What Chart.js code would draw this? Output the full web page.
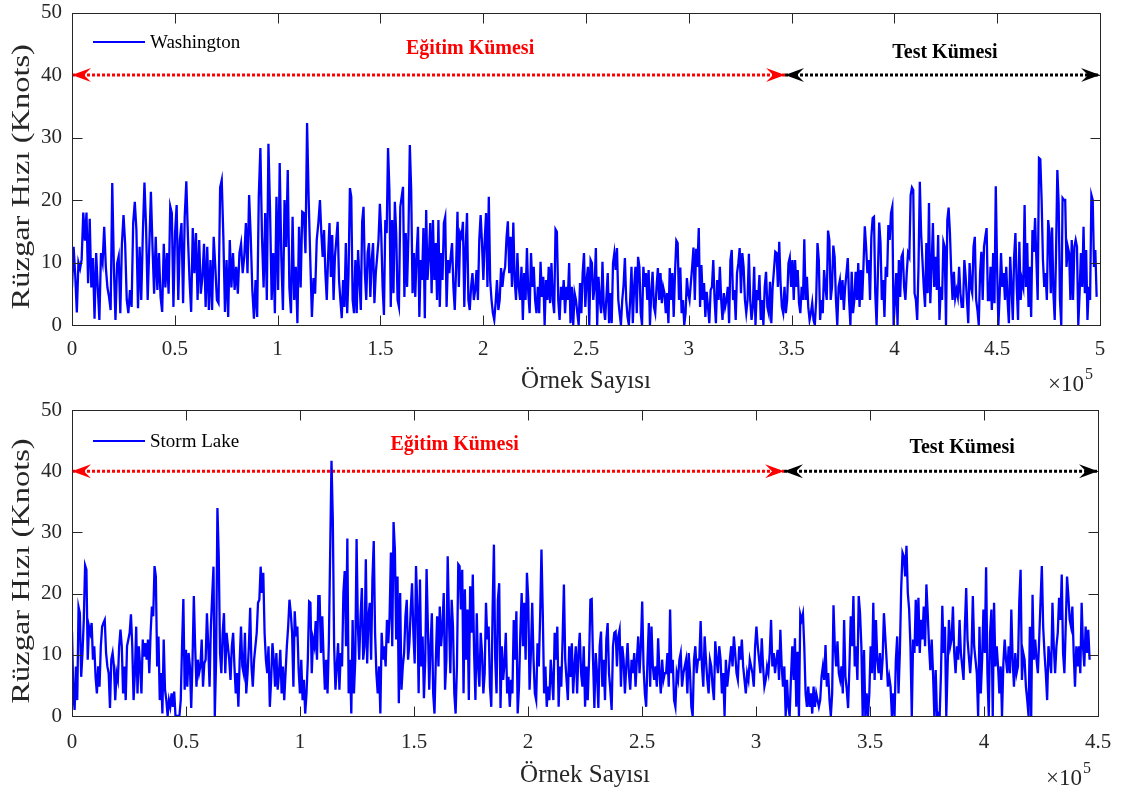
<!DOCTYPE html>
<html>
<head>
<meta charset="utf-8">
<script src="https://cdn.jsdelivr.net/npm/chart.js@4.4.1/dist/chart.umd.min.js"></script>
<style>
    html, body { margin: 0; padding: 0; background: #fff; }
    #wrap { width: 1121px; height: 796px; overflow: hidden; }
    canvas { display: block; }
</style>
</head>
<body>
<div id="wrap">
    <canvas id="topChart" width="1121" height="396"></canvas>
    <canvas id="bottomChart" width="1121" height="400"></canvas>
</div>
<script>
// Wind speed (knots) per sample, stored in four consecutive chunks per station.
// Each chunk covers the sample range between two neighbouring break values.
const washingtonBreaks = [0, 120600, 247100, 373500, 499000];
const washington1 = [6, 12.5, 8, 2, 10, 9, 10.5, 18, 13.5, 18, 6.7, 17, 6, 10.7, 1, 11.5, 6, 0.8, 11.5, 10, 15.7, 9.3, 6, 4.5, 2.4, 22.7, 9.3, 0.8, 9.8, 11, 1.9, 13, 17.6, 13, 4, 1.9, 5.6, 2.9, 16.3, 19.7, 15.2, 2.7, 12.5, 4, 14.7, 22.8, 15.7, 4, 12.5, 21.3, 12.5, 5, 14.1, 5.6, 11.5, 4.5, 2.1, 13, 6, 11.5, 5, 19, 17.9, 2.9, 14.7, 19.2, 4, 13.6, 16.3, 3.5, 17.3, 23, 14.1, 7.2, 2.1, 15.5, 8.3, 14.7, 4, 13.6, 5, 7.7, 13, 2.9, 12.5, 2.4, 10.4, 2.4, 14.1, 9.3, 4, 3.5, 22, 23.2, 14.1, 2.1, 10.4, 1.3, 13.6, 6, 11.5, 5.6, 9.3, 5, 11.5, 13, 8.3, 11, 16.3, 8.3, 20.8, 14.1, 5.6, 1, 7.2, 1.3, 20.5, 28.3, 14.1, 6, 17.9, 4, 29, 18.4, 4, 11.5, 1.9, 20.5, 5.6, 25.9, 10.9, 2.4, 20, 12.5, 24.8, 6, 1.9, 17.3, 4, 9.3, 0.3, 15.7, 6, 18.1, 17.9, 11.5, 32.3, 20, 10.4, 1.3, 7.5, 5, 13.6, 16.3];
const washington2 = [20, 14.7, 10.9, 15.2, 8.3, 4, 10.9, 16.3, 7.7, 14.4, 4, 10.9, 13.6, 16.5, 7.2, 4, 1.1, 7.2, 2.9, 13.1, 1.9, 8.3, 21.9, 20.5, 4, 1.9, 10.4, 1.9, 12, 7.2, 2.4, 16.5, 18.9, 8.3, 4, 11.5, 13.1, 4.5, 10.4, 13.1, 3.5, 8.3, 10.9, 13.6, 19.4, 14.7, 6.1, 1.6, 16.8, 14.7, 28.3, 21.6, 2.9, 16.8, 5.1, 19.7, 14.7, 4, 2.9, 18.9, 20.5, 22.1, 4.5, 14.7, 6.1, 14.7, 28.8, 21.6, 5.1, 11.5, 4.5, 11.5, 15.7, 1.3, 10.4, 7.2, 15.5, 1.1, 18.4, 7.2, 10.9, 16.3, 5.1, 16.8, 7.2, 13.1, 4, 16.8, 2.9, 11.5, 7.2, 16.3, 17.3, 2.9, 10.4, 8.3, 10.9, 13.1, 6.1, 2.4, 9.3, 18.1, 6.1, 14.7, 14.1, 16.5, 2.9, 12.3, 17.9, 4, 2.4, 6.1, 8.3, 4, 5.6, 8.8, 4, 13.6, 17.6, 13.1, 7.2, 13.6, 17.9, 6.1, 20.5, 7.2, 4, 1.9, 0.8, 3.5, 7.2, 2.4, 4, 9.1, 6.1, 8.3, 9.3, 13.9, 16.6, 8.3, 14.1, 6.1, 16.4, 7.2, 4, 11.5, 6.1, 4, 9.3, 0.8, 8.3, 4, 12.3, 5.1, 1.9, 11.5, 6.1, 9.3, 4, 1.9, 6.1, 1.9, 10.1, 4.5, 7.7, 0, 7.2, 4, 9.3, 3.5, 9.9, 4, 1.9, 15.3, 14.9, 4, 0.8, 6.1, 4, 7.2, 1.9, 6.1, 4, 9.9, 0.3, 6.1, 0, 5.1, 4, 1.9, 0];
const washington3 = [6.7, 1.9, 8.3, 11.5, 2.9, 7.2, 9.3, 0, 10.4, 9.9, 4, 6.1, 12.3, 0, 7.7, 4, 1.9, 10.1, 2.9, 0.8, 4.5, 8.3, 0.3, 5.1, 0.3, 9.9, 11.5, 8.8, 12.3, 4, 1.9, 0, 4, 6.4, 10.7, 4, 1.3, 0, 4, 9.3, 0.3, 6.1, 9.3, 1.9, 10.9, 9.3, 1.9, 0, 9.3, 6.1, 8.3, 4, 8.8, 0, 5.1, 8.5, 2.9, 1.9, 6.1, 9.1, 4, 8.3, 3.5, 6.1, 5.1, 1.9, 5.1, 0.3, 9.1, 4, 8.3, 1.3, 8.4, 13.5, 13.1, 4, 9.2, 1.9, 4, 0, 1.9, 7.5, 5.1, 4, 6.7, 9.3, 12.4, 4, 12.2, 9.3, 15.5, 2.9, 9.6, 4, 6.7, 1.3, 5.3, 2.9, 0.3, 5.6, 6.1, 10.4, 4, 0.3, 7.2, 4, 9.3, 4, 0.8, 5.1, 2.9, 4, 6.1, 0.3, 10.4, 12, 4, 5.6, 0.8, 8.3, 9.9, 12.3, 5.1, 11.5, 9.3, 4, 1.9, 4, 11.4, 4, 0.8, 2.9, 9.3, 0, 5.6, 4, 8, 0.8, 4, 0, 6.1, 8.5, 2.9, 1.9, 6.9, 0.3, 6.1, 8.8, 11.7, 11.5, 6.1, 13.3, 6.7, 2.9, 1.9, 6.1, 1.9, 4, 9.9, 10.8, 6.1, 10.4, 4, 10.4, 6.1, 8.8, 3.5, 1.9, 6.1, 4, 13.7, 4, 7.7, 2.9, 0.8, 1.9, 3.5, 0.8, 0, 4, 13.1, 10.4, 0.8, 4, 1.9, 8.8, 6.1, 4, 15.1, 13.6, 4, 6.1, 12.7, 10.9, 4, 0, 6.1];
const washington4 = [7.2, 4, 7.2, 2.4, 6.1, 8.3, 10.7, 4, 0, 8.5, 1.9, 4, 8.5, 4, 9.9, 2.9, 8.8, 4, 9.6, 15.8, 12.5, 8.3, 10.4, 4, 14.1, 17.1, 17.3, 5.1, 0, 8.3, 16.4, 13.1, 4, 7.2, 1.3, 9.3, 7.7, 16, 13.6, 17.9, 18.9, 0, 4, 8.3, 0, 10.4, 4.5, 10.9, 11.5, 6.1, 4, 8.3, 11.5, 10.9, 20.8, 22, 21.6, 5.1, 4, 0.8, 9.3, 22.9, 14.7, 10.4, 6.1, 2.9, 13.1, 5.1, 19.5, 3.5, 9.3, 16.3, 6.1, 10.9, 5.6, 14.4, 0.8, 6.1, 4, 13.3, 12.5, 0, 16.8, 18.8, 14.7, 8.5, 4, 8.5, 4.3, 5.6, 4.5, 9.3, 5.1, 2.9, 2.9, 10.4, 7.7, 4, 0.3, 9.9, 6.1, 5.1, 12.5, 14.1, 4, 2.4, 0, 8.3, 11.7, 4, 12.5, 14.1, 15.5, 4, 4, 9.3, 2.4, 11.5, 3.5, 22.2, 9.3, 0, 5.1, 11.5, 6.1, 8.3, 4, 9.3, 4, 0.3, 10.9, 6.1, 0.8, 10.9, 14.7, 6.1, 0.8, 13.3, 4, 7.2, 6.1, 19.2, 6.1, 13.1, 2.9, 9.3, 1.3, 15.2, 11.7, 17.1, 10.4, 4, 26.7, 26.5, 20, 10.4, 6.1, 8.3, 4, 16.8, 14.7, 5.1, 15.6, 5.1, 0.8, 11.5, 24.8, 19.5, 4, 0, 20.3, 20, 20, 9.3, 12.5, 11.5, 4, 13.6, 4, 12.5, 13.6, 12.5, 0, 5.1, 11.5, 6.1, 15.7, 5.1, 12, 0.8, 6.1, 4, 20.8, 20, 9.3, 12, 4.5];

const stormLakeBreaks = [0, 108600, 222700, 336900, 446900];
const stormLake1 = [13.8, 3.7, 1, 8.1, 2.6, 17.8, 16.8, 6.4, 10.3, 15.7, 24.6, 23.9, 9.2, 14.6, 13.6, 15.2, 9.2, 11.4, 6.4, 3.7, 8.1, 4.8, 11.4, 14.6, 15.2, 15.7, 10.3, 8.1, 7, 1.3, 9.2, 10.3, 8.1, 2.6, 7, 5.9, 11.4, 14.1, 11.4, 3.7, 8.1, 2.6, 11.4, 12.5, 13.6, 16.6, 11.4, 2.6, 7, 14.6, 3.7, 11.4, 8.1, 3.7, 12.5, 9.7, 11.9, 9.2, 12.5, 7, 13.6, 17.9, 16.3, 24.5, 22.8, 8.1, 13, 2.6, 7, 0.4, 12.5, 4.3, 2.6, 0, 2.6, 1.5, 3.7, 1.5, 4, 0, 0, 0, 0, 2.6, 11.4, 19.1, 4.3, 10.8, 4.8, 10.3, 8.1, 1.3, 9.2, 19.6, 11.4, 4.8, 9.2, 7, 8.1, 12.5, 4.8, 8.6, 9.2, 16.8, 11.4, 4.8, 14.6, 19.6, 24.4, 0, 9.2, 34, 26.1, 10.3, 7, 13.6, 16.8, 7, 13.6, 11.4, 9.2, 5.9, 11.4, 13.6, 8.1, 3.7, 7, 1.5, 9.2, 14.6, 8.1, 7, 13.6, 3.7, 7, 11.4, 17.7, 8.1, 4.8, 9.2, 11.4, 13.6, 18.5, 19, 24.4, 20.1, 23.4, 13.6, 9.2, 7, 11.4, 1.5, 5.9, 11.9, 9.2, 4.8, 10.3, 4.3, 7, 10.8, 3.7, 8.1, 2.6, 7, 11.4, 14.6, 19, 16.8, 13.6, 4.8, 17.1, 13, 14.6, 7.5, 3.7, 9.2, 2.6, 5.9, 0.4, 3.7, 9.2, 18.7, 18.5, 7, 12.5, 11.4, 15.5, 9.2, 19.6];
const stormLake2 = [19.6, 10.3, 16.3, 9.7, 4.3, 9.2, 3.7, 11.9, 26.7, 41.7, 32.1, 11.4, 4.3, 8.1, 11.9, 4.3, 10.3, 8.1, 20.1, 23.7, 11.4, 29, 3.7, 9.2, 0.4, 15.7, 3.7, 9.2, 28.9, 14.6, 9.2, 16.3, 20.9, 9.2, 11.4, 25.6, 8.6, 16.3, 18.5, 9.2, 22.3, 28.6, 13.6, 7, 3.7, 8.1, 0.4, 13.6, 9.2, 11.4, 8.1, 15.7, 11.9, 16.3, 26.7, 11.4, 31.7, 27.2, 12.5, 22.8, 2.1, 20.1, 4.3, 8.1, 10.3, 16.3, 19, 9.2, 11.9, 17.4, 21.7, 13.6, 8.6, 24.5, 17.9, 3.7, 22.3, 8.1, 13, 2.9, 9.2, 24, 14.6, 4.3, 11.4, 16.8, 3.7, 0.4, 9.2, 16.3, 8.1, 17.9, 11.4, 14.6, 20.1, 4.3, 9.2, 26.1, 15.7, 7, 19, 14.6, 3.7, 0.4, 8.1, 24.8, 24.5, 17.4, 23.9, 3.7, 20.7, 9.2, 17.4, 2.6, 21.2, 13.6, 23.1, 10.3, 2.6, 16.8, 8.1, 4.8, 13.6, 10.3, 3.7, 7, 18.5, 12.5, 14.6, 4.8, 1.5, 17.4, 28, 9.2, 3.7, 19, 21.7, 1.3, 11.4, 5.9, 8.6, 13.6, 3.7, 6.4, 1.5, 5.9, 3.7, 15.7, 9.2, 17.1, 0.4, 4.8, 13.6, 20.1, 11.4, 18.5, 9.2, 23.4, 19, 4.3, 10.3, 18.5, 9.2, 3.7, 2.6, 11.9, 8.1, 16.3, 27.2, 16.8, 3.7, 8.1, 1.5, 4.8, 2.6, 9.2, 5.9, 2.6, 13.6, 9.2, 14.6, 1.5, 8.1, 4.8, 12.5, 21.5, 9.2, 5.9, 2.6, 11.4, 6.4, 11.9, 3.7, 8.1, 11.4, 3.7, 10.3];
const stormLake3 = [13.6, 7, 4.8, 11.4, 1.5, 8.1, 2.6, 9.2, 19, 19.1, 9.2, 1.3, 10.3, 7, 1.3, 11.4, 13.8, 4.8, 9.2, 2.6, 12.5, 15.2, 7, 4.3, 1, 11.4, 13.6, 13.8, 8.1, 13, 14.1, 4.8, 11.4, 9.2, 3.7, 8.1, 11.9, 7, 4.3, 9.2, 7, 10.3, 4.8, 9.2, 13, 7, 11.4, 18.7, 8.1, 3.7, 1.5, 9.2, 15.2, 4.8, 14.6, 8.1, 5.9, 8.1, 4.8, 12.7, 7, 3.7, 9.2, 5.9, 7, 7, 10.3, 4.8, 17.4, 7, 9.2, 2.6, 1.5, 7, 5.9, 9.2, 10.3, 4.8, 7, 8.1, 9.2, 3.7, 10.3, 7, 1.5, 0, 9.2, 11.4, 7, 9.2, 9.2, 15.5, 8.1, 4.8, 13, 9.2, 5.9, 3.7, 9.2, 8.1, 4.8, 2.6, 12.2, 9.2, 7, 11.4, 9.2, 3.7, 7, 0, 9.2, 4.8, 7, 9.2, 11.4, 8.1, 13, 10.3, 7, 5.9, 11.4, 9.2, 12.5, 8.1, 5.9, 3.7, 7, 5.9, 9.2, 8.1, 7, 4.8, 11.4, 14.6, 11.4, 9.2, 7, 12.7, 8.1, 4.8, 5.9, 8.1, 7, 10.3, 15.7, 8.1, 10.3, 7, 9.2, 10.8, 5.9, 14.1, 8.1, 4.8, 8.1, 0, 5.9, 1.5, 0, 6.4, 11.4, 5.9, 12.7, 1.5, 10.5, 0, 16.6, 15.7, 16.7, 11.4, 3.7, 1.5, 4.8, 1.5, 3.7, 0.4, 4.8, 1.5, 3.7, 2.6, 1.5, 2.6, 6.4, 8.1, 5.9, 11.6, 4.8, 7, 2.6, 0, 3.7, 18.1, 11.4, 8.1, 12.2, 7];
const stormLake4 = [5.9, 8.1, 3.7, 15.7, 6.4, 4.3, 1.3, 8.1, 16.3, 11.4, 19.6, 8.1, 11.4, 5.9, 19.6, 16.8, 11.4, 0, 10.8, 0, 3.7, 0, 3.7, 11.4, 7, 18.5, 5.9, 15.7, 9.2, 7, 10.3, 5.9, 9.2, 16.8, 13, 9.2, 4.8, 6.4, 4.8, 0, 3.7, 0, 9.2, 13, 3.7, 10.3, 20.7, 26.7, 26.1, 22.8, 27.8, 20.1, 17.4, 11.4, 0, 12.5, 10.3, 19, 11.4, 19.3, 10.3, 15.7, 12.5, 17.9, 11.4, 21.5, 16.8, 11.4, 7.5, 12.5, 7, 0, 7.5, 0, 0.4, 0, 7, 18, 10.3, 14.6, 0, 8.1, 15.7, 11.4, 12.5, 17.9, 10.3, 7, 11.4, 9.2, 15.7, 10.3, 8.1, 5.9, 14.6, 20.9, 12.5, 9.7, 7, 10.3, 19.6, 11.4, 9.2, 7, 0, 14.6, 3.7, 9.2, 17.4, 10.3, 24.3, 7, 0, 13.6, 17.4, 0, 18.5, 8.1, 11.4, 8.1, 3.7, 8.1, 0, 8.6, 12.5, 9.2, 7, 11.4, 7, 17.4, 9.2, 4.8, 10.3, 7, 8.1, 18.7, 23.9, 5.9, 10.3, 9.2, 4.8, 2.6, 0, 14.6, 0, 19.8, 9.2, 12.5, 9.2, 7, 12.5, 18.7, 24.5, 14.6, 10.3, 7, 2.6, 11.4, 9.2, 7, 18.5, 11.4, 7, 11.4, 13.6, 19.3, 15.7, 23.1, 10.3, 7, 14.6, 22.8, 19.6, 15.7, 14.6, 17.9, 10.3, 4.8, 11.4, 8.1, 11.4, 7, 18.5, 11.4, 8.1, 14.6, 10.3, 14.1, 9.2];

// Tick labels (x in units of 10^5 samples)
const topXTickLabels = ['0', '0.5', '1', '1.5', '2', '2.5', '3', '3.5', '4', '4.5', '5'];
const bottomXTickLabels = ['0', '0.5', '1', '1.5', '2', '2.5', '3', '3.5', '4', '4.5'];
const yTickLabels = ['0', '10', '20', '30', '40', '50'];

// Training / test split markers
const arrowLevel = 40;
const topSplit = 346800, topEnd = 500000;
const bottomSplit = 312300, bottomEnd = 450000;

const serif = "'Liberation Serif', 'Times New Roman', serif";
const axisColor = '#262626';

function buildSeries(breaks, chunks) {
    const points = [];
    chunks.forEach((chunk, i) => {
        const step = (breaks[i + 1] - breaks[i]) / chunk.length;
        chunk.forEach((v, j) => points.push({ x: breaks[i] + j * step, y: v }));
    });
    return points;
}

function arrowHead(ctx, tipX, tipY, dir, color) {
    const len = 19, half = 7, notch = 12;
    ctx.fillStyle = color;
    ctx.beginPath();
    ctx.moveTo(tipX, tipY);
    ctx.lineTo(tipX - dir * len, tipY - half);
    ctx.lineTo(tipX - dir * notch, tipY);
    ctx.lineTo(tipX - dir * len, tipY + half);
    ctx.closePath();
    ctx.fill();
}

// Box, inward ticks, y label, legend, arrow heads and the set labels
const matlabFrame = {
    id: 'matlabFrame',
    afterDatasetsDraw(chart, args, opts) {
        const { ctx, chartArea: a, scales: { x, y } } = chart;
        ctx.save();

        ctx.strokeStyle = axisColor;
        ctx.lineWidth = 1;
        const l = Math.round(a.left) + 0.5, r = Math.round(a.right) + 0.5;
        const t = Math.round(a.top) + 0.5, b = Math.round(a.bottom) + 0.5;
        ctx.strokeRect(l, t, r - l, b - t);
        ctx.beginPath();
        x.ticks.forEach(tk => {
            const px = Math.round(x.getPixelForValue(tk.value)) + 0.5;
            ctx.moveTo(px, b); ctx.lineTo(px, b - 10);
            ctx.moveTo(px, t); ctx.lineTo(px, t + 10);
        });
        y.ticks.forEach(tk => {
            const py = Math.round(y.getPixelForValue(tk.value)) + 0.5;
            ctx.moveTo(l, py); ctx.lineTo(l + 10, py);
            ctx.moveTo(r, py); ctx.lineTo(r - 10, py);
        });
        ctx.stroke();

        // y axis label, drawn a little stretched along its length
        ctx.save();
        ctx.translate(22, (a.top + a.bottom) / 2 + 8);
        ctx.rotate(-Math.PI / 2);
        ctx.scale(1.3, 1);
        ctx.fillStyle = axisColor;
        ctx.font = `25px ${serif}`;
        ctx.textAlign = 'center';
        ctx.textBaseline = 'middle';
        ctx.fillText('Rüzgar Hızı (Knots)', 0, 0);
        ctx.restore();

        // arrow heads at both ends of each split marker
        const ay = y.getPixelForValue(arrowLevel);
        arrowHead(ctx, x.getPixelForValue(0), ay, -1, '#ff0000');
        arrowHead(ctx, x.getPixelForValue(opts.split), ay, 1, '#ff0000');
        arrowHead(ctx, x.getPixelForValue(opts.split), ay, -1, '#000000');
        arrowHead(ctx, x.getPixelForValue(opts.end), ay, 1, '#000000');

        // set labels
        ctx.font = `bold 20px ${serif}`;
        ctx.textAlign = 'center';
        ctx.textBaseline = 'middle';
        opts.labels.forEach(lb => {
            ctx.fillStyle = lb.color;
            ctx.fillText(lb.text, x.getPixelForValue(lb.x), y.getPixelForValue(lb.y));
        });

        // legend
        const ly = a.top + opts.legendOffset;
        ctx.strokeStyle = '#0000ff';
        ctx.lineWidth = 2;
        ctx.beginPath();
        ctx.moveTo(a.left + 21, ly);
        ctx.lineTo(a.left + 73, ly);
        ctx.stroke();
        ctx.fillStyle = '#000000';
        ctx.font = `19px ${serif}`;
        ctx.textAlign = 'left';
        ctx.fillText(chart.data.datasets[0].label, a.left + 78, ly + 1);

        // x exponent
        ctx.fillStyle = axisColor;
        ctx.textBaseline = 'alphabetic';
        ctx.textAlign = 'right';
        ctx.font = `23px ${serif}`;
        ctx.fillText('\u00d710', a.right - 16, a.bottom + opts.expOffset);
        ctx.textAlign = 'left';
        ctx.font = `16px ${serif}`;
        ctx.fillText('5', a.right - 15, a.bottom + opts.expOffset - 12);

        ctx.restore();
    }
};

function makeChart(id, cfg) {
    return new Chart(document.getElementById(id), {
        type: 'line',
        data: {
            datasets: [
                {
                    label: cfg.label,
                    data: cfg.points,
                    borderColor: '#0000ff',
                    borderWidth: 2.3,
                    pointRadius: 0,
                    tension: 0
                },
                {
                    label: 'train',
                    data: [{ x: 0, y: arrowLevel }, { x: cfg.split, y: arrowLevel }],
                    borderColor: '#ff0000',
                    borderWidth: 3,
                    borderDash: [3, 2],
                    pointRadius: 0
                },
                {
                    label: 'test',
                    data: [{ x: cfg.split, y: arrowLevel }, { x: cfg.end, y: arrowLevel }],
                    borderColor: '#000000',
                    borderWidth: 3,
                    borderDash: [3, 2],
                    pointRadius: 0
                }
            ]
        },
        options: {
            responsive: false,
            animation: false,
            devicePixelRatio: 1,
            layout: { padding: cfg.padding },
            plugins: {
                legend: { display: false },
                tooltip: { enabled: false },
                matlabFrame: {
                    split: cfg.split,
                    end: cfg.end,
                    labels: cfg.labels,
                    legendOffset: cfg.legendOffset,
                    expOffset: cfg.expOffset
                }
            },
            scales: {
                x: {
                    type: 'linear',
                    min: 0,
                    max: cfg.xMax,
                    afterFit(scale) {
                        scale.height = cfg.xAxisHeight;
                        scale.paddingLeft = 0;
                        scale.paddingRight = 0;
                    },
                    grid: { display: false, drawTicks: false },
                    border: { display: false },
                    ticks: {
                        stepSize: 50000,
                        padding: cfg.xTickPadding,
                        maxRotation: 0,
                        autoSkip: false,
                        color: axisColor,
                        font: { family: serif, size: 21, lineHeight: 1 },
                        callback: (v, i) => cfg.xLabels[i]
                    },
                    title: {
                        display: true,
                        text: 'Örnek Sayısı',
                        color: axisColor,
                        font: { family: serif, size: 25 },
                        padding: { top: 0, bottom: cfg.xTitlePad }
                    }
                },
                y: {
                    min: 0,
                    max: 50,
                    afterFit(scale) {
                        scale.width = 72;
                        scale.paddingTop = 0;
                        scale.paddingBottom = 0;
                    },
                    grid: { display: false, drawTicks: false },
                    border: { display: false },
                    ticks: {
                        stepSize: 10,
                        padding: 10,
                        color: axisColor,
                        font: { family: serif, size: 21, lineHeight: 1 },
                        callback: (v, i) => yTickLabels[i]
                    }
                }
            }
        },
        plugins: [matlabFrame]
    });
}

makeChart('topChart', {
    label: 'Washington',
    points: buildSeries(washingtonBreaks, [washington1, washington2, washington3, washington4]),
    split: topSplit,
    end: topEnd,
    xMax: 500000,
    xLabels: topXTickLabels,
    padding: { left: 0, right: 21, top: 12.5, bottom: 0 },
    xAxisHeight: 71,
    xTickPadding: 14,
    xTitlePad: 0,
    legendOffset: 29.5,
    expOffset: 66,
    labels: [
        { text: 'Eğitim Kümesi', x: 193600, y: 44.2, color: '#ff0000' },
        { text: 'Test Kümesi', x: 424600, y: 43.5, color: '#000000' }
    ]
});

makeChart('bottomChart', {
    label: 'Storm Lake',
    points: buildSeries(stormLakeBreaks, [stormLake1, stormLake2, stormLake3, stormLake4]),
    split: bottomSplit,
    end: bottomEnd,
    xMax: 450000,
    xLabels: bottomXTickLabels,
    padding: { left: 0, right: 23, top: 14, bottom: 0 },
    xAxisHeight: 80,
    xTickPadding: 16,
    xTitlePad: 6,
    legendOffset: 31,
    expOffset: 69,
    labels: [
        { text: 'Eğitim Kümesi', x: 167800, y: 44.3, color: '#ff0000' },
        { text: 'Test Kümesi', x: 390400, y: 43.8, color: '#000000' }
    ]
});
</script>
</body>
</html>
